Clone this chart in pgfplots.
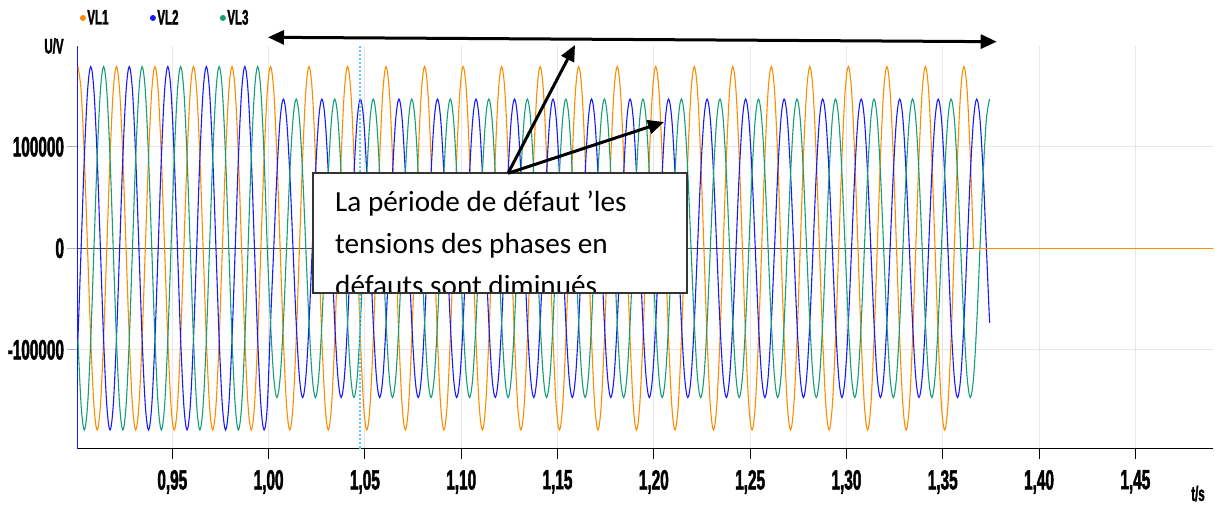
\documentclass[border=0pt]{standalone}
\usepackage{fontspec}
\setmainfont{Carlito}
\newfontfamily\cond{Liberation Sans}[FakeStretch=0.55, FakeBold=1.6]
\usepackage{pgfplots}
\pgfplotsset{compat=1.18}
\usepackage{pgfplotstable}
\usetikzlibrary{arrows.meta}

\definecolor{vlone}{RGB}{255,140,0}
\definecolor{vltwo}{RGB}{25,25,255}
\definecolor{vlthree}{RGB}{20,158,120}
\definecolor{cursor}{RGB}{90,200,245}

\newcommand\tickfont{\fontsize{28}{30}\selectfont\cond\bfseries}
\newcommand\smallfont{\fontsize{21}{23}\selectfont\cond\bfseries}

% t [s], VL1, VL2, VL3 [V]; fault from t = 1.0 s (VL2, VL3 reduced)
\pgfplotstableread{
t a b c
0.901 179000 -89500 -89500
0.90267 155000 0 -155000
0.90433 89500 89500 -179000
0.906 0 155000 -155000
0.90767 -89500 179000 -89500
0.90933 -155000 155000 0
0.911 -179000 89500 89500
0.91267 -155000 0 155000
0.91433 -89500 -89500 179000
0.916 0 -155000 155000
0.91767 89500 -179000 89500
0.91933 155000 -155000 0
0.921 179000 -89500 -89500
0.92267 155000 0 -155000
0.92433 89500 89500 -179000
0.926 0 155000 -155000
0.92767 -89500 179000 -89500
0.92933 -155000 155000 0
0.931 -179000 89500 89500
0.93267 -155000 0 155000
0.93433 -89500 -89500 179000
0.936 0 -155000 155000
0.93767 89500 -179000 89500
0.93933 155000 -155000 0
0.941 179000 -89500 -89500
0.94267 155000 0 -155000
0.94433 89500 89500 -179000
0.946 0 155000 -155000
0.94767 -89500 179000 -89500
0.94933 -155000 155000 0
0.951 -179000 89500 89500
0.95267 -155000 0 155000
0.95433 -89500 -89500 179000
0.956 0 -155000 155000
0.95767 89500 -179000 89500
0.95933 155000 -155000 0
0.961 179000 -89500 -89500
0.96267 155000 0 -155000
0.96433 89500 89500 -179000
0.966 0 155000 -155000
0.96767 -89500 179000 -89500
0.96933 -155000 155000 0
0.971 -179000 89500 89500
0.97267 -155000 0 155000
0.97433 -89500 -89500 179000
0.976 0 -155000 155000
0.97767 89500 -179000 89500
0.97933 155000 -155000 0
0.981 179000 -89500 -89500
0.98267 155000 0 -155000
0.98433 89500 89500 -179000
0.986 0 155000 -155000
0.98767 -89500 179000 -89500
0.98933 -155000 155000 0
0.991 -179000 89500 89500
0.99267 -155000 0 155000
0.99433 -89500 -89500 179000
0.996 0 -155000 155000
0.99767 89500 -179000 89500
0.99933 155000 -155000 0
1.001 179000 -73500 -73500
1.00267 155000 0 -127300
1.00433 89500 73500 -147000
1.006 0 127300 -127300
1.00767 -89500 147000 -73500
1.00933 -155000 127300 0
1.011 -179000 73500 73500
1.01267 -155000 0 127300
1.01433 -89500 -73500 147000
1.016 0 -127300 127300
1.01767 89500 -147000 73500
1.01933 155000 -127300 0
1.021 179000 -73500 -73500
1.02267 155000 0 -127300
1.02433 89500 73500 -147000
1.026 0 127300 -127300
1.02767 -89500 147000 -73500
1.02933 -155000 127300 0
1.031 -179000 73500 73500
1.03267 -155000 0 127300
1.03433 -89500 -73500 147000
1.036 0 -127300 127300
1.03767 89500 -147000 73500
1.03933 155000 -127300 0
1.041 179000 -73500 -73500
1.04267 155000 0 -127300
1.04433 89500 73500 -147000
1.046 0 127300 -127300
1.04767 -89500 147000 -73500
1.04933 -155000 127300 0
1.051 -179000 73500 73500
1.05267 -155000 0 127300
1.05433 -89500 -73500 147000
1.056 0 -127300 127300
1.05767 89500 -147000 73500
1.05933 155000 -127300 0
1.061 179000 -73500 -73500
1.06267 155000 0 -127300
1.06433 89500 73500 -147000
1.066 0 127300 -127300
1.06767 -89500 147000 -73500
1.06933 -155000 127300 0
1.071 -179000 73500 73500
1.07267 -155000 0 127300
1.07433 -89500 -73500 147000
1.076 0 -127300 127300
1.07767 89500 -147000 73500
1.07933 155000 -127300 0
1.081 179000 -73500 -73500
1.08267 155000 0 -127300
1.08433 89500 73500 -147000
1.086 0 127300 -127300
1.08767 -89500 147000 -73500
1.08933 -155000 127300 0
1.091 -179000 73500 73500
1.09267 -155000 0 127300
1.09433 -89500 -73500 147000
1.096 0 -127300 127300
1.09767 89500 -147000 73500
1.09933 155000 -127300 0
1.101 179000 -73500 -73500
1.10267 155000 0 -127300
1.10433 89500 73500 -147000
1.106 0 127300 -127300
1.10767 -89500 147000 -73500
1.10933 -155000 127300 0
1.111 -179000 73500 73500
1.11267 -155000 0 127300
1.11433 -89500 -73500 147000
1.116 0 -127300 127300
1.11767 89500 -147000 73500
1.11933 155000 -127300 0
1.121 179000 -73500 -73500
1.12267 155000 0 -127300
1.12433 89500 73500 -147000
1.126 0 127300 -127300
1.12767 -89500 147000 -73500
1.12933 -155000 127300 0
1.131 -179000 73500 73500
1.13267 -155000 0 127300
1.13433 -89500 -73500 147000
1.136 0 -127300 127300
1.13767 89500 -147000 73500
1.13933 155000 -127300 0
1.141 179000 -73500 -73500
1.14267 155000 0 -127300
1.14433 89500 73500 -147000
1.146 0 127300 -127300
1.14767 -89500 147000 -73500
1.14933 -155000 127300 0
1.151 -179000 73500 73500
1.15267 -155000 0 127300
1.15433 -89500 -73500 147000
1.156 0 -127300 127300
1.15767 89500 -147000 73500
1.15933 155000 -127300 0
1.161 179000 -73500 -73500
1.16267 155000 0 -127300
1.16433 89500 73500 -147000
1.166 0 127300 -127300
1.16767 -89500 147000 -73500
1.16933 -155000 127300 0
1.171 -179000 73500 73500
1.17267 -155000 0 127300
1.17433 -89500 -73500 147000
1.176 0 -127300 127300
1.17767 89500 -147000 73500
1.17933 155000 -127300 0
1.181 179000 -73500 -73500
1.18267 155000 0 -127300
1.18433 89500 73500 -147000
1.186 0 127300 -127300
1.18767 -89500 147000 -73500
1.18933 -155000 127300 0
1.191 -179000 73500 73500
1.19267 -155000 0 127300
1.19433 -89500 -73500 147000
1.196 0 -127300 127300
1.19767 89500 -147000 73500
1.19933 155000 -127300 0
1.201 179000 -73500 -73500
1.20267 155000 0 -127300
1.20433 89500 73500 -147000
1.206 0 127300 -127300
1.20767 -89500 147000 -73500
1.20933 -155000 127300 0
1.211 -179000 73500 73500
1.21267 -155000 0 127300
1.21433 -89500 -73500 147000
1.216 0 -127300 127300
1.21767 89500 -147000 73500
1.21933 155000 -127300 0
1.221 179000 -73500 -73500
1.22267 155000 0 -127300
1.22433 89500 73500 -147000
1.226 0 127300 -127300
1.22767 -89500 147000 -73500
1.22933 -155000 127300 0
1.231 -179000 73500 73500
1.23267 -155000 0 127300
1.23433 -89500 -73500 147000
1.236 0 -127300 127300
1.23767 89500 -147000 73500
1.23933 155000 -127300 0
1.241 179000 -73500 -73500
1.24267 155000 0 -127300
1.24433 89500 73500 -147000
1.246 0 127300 -127300
1.24767 -89500 147000 -73500
1.24933 -155000 127300 0
1.251 -179000 73500 73500
1.25267 -155000 0 127300
1.25433 -89500 -73500 147000
1.256 0 -127300 127300
1.25767 89500 -147000 73500
1.25933 155000 -127300 0
1.261 179000 -73500 -73500
1.26267 155000 0 -127300
1.26433 89500 73500 -147000
1.266 0 127300 -127300
1.26767 -89500 147000 -73500
1.26933 -155000 127300 0
1.271 -179000 73500 73500
1.27267 -155000 0 127300
1.27433 -89500 -73500 147000
1.276 0 -127300 127300
1.27767 89500 -147000 73500
1.27933 155000 -127300 0
1.281 179000 -73500 -73500
1.28267 155000 0 -127300
1.28433 89500 73500 -147000
1.286 0 127300 -127300
1.28767 -89500 147000 -73500
1.28933 -155000 127300 0
1.291 -179000 73500 73500
1.29267 -155000 0 127300
1.29433 -89500 -73500 147000
1.296 0 -127300 127300
1.29767 89500 -147000 73500
1.29933 155000 -127300 0
1.301 179000 -73500 -73500
1.30267 155000 0 -127300
1.30433 89500 73500 -147000
1.306 0 127300 -127300
1.30767 -89500 147000 -73500
1.30933 -155000 127300 0
1.311 -179000 73500 73500
1.31267 -155000 0 127300
1.31433 -89500 -73500 147000
1.316 0 -127300 127300
1.31767 89500 -147000 73500
1.31933 155000 -127300 0
1.321 179000 -73500 -73500
1.32267 155000 0 -127300
1.32433 89500 73500 -147000
1.326 0 127300 -127300
1.32767 -89500 147000 -73500
1.32933 -155000 127300 0
1.331 -179000 73500 73500
1.33267 -155000 0 127300
1.33433 -89500 -73500 147000
1.336 0 -127300 127300
1.33767 89500 -147000 73500
1.33933 155000 -127300 0
1.341 179000 -73500 -73500
1.34267 155000 0 -127300
1.34433 89500 73500 -147000
1.346 0 127300 -127300
1.34767 -89500 147000 -73500
1.34933 -155000 127300 0
1.351 -179000 73500 73500
1.35267 -155000 0 127300
1.35433 -89500 -73500 147000
1.356 0 -127300 127300
1.35767 89500 -147000 73500
1.35933 155000 -127300 0
1.361 179000 -73500 -73500
1.36267 155000 0 -127300
1.36433 89500 73500 -147000
1.366 0 127300 -127300
1.36767 0 147000 -73500
1.36933 0 127300 0
1.371 0 73500 73500
1.37267 0 0 127300
1.37433 0 -73500 147000
1.49034 0 nan nan
}\volt

\begin{document}
\begin{tikzpicture}
\useasboundingbox (0,0) rectangle (1215bp,506bp);
\begin{axis}[
    at={(77.5bp,57.5bp)}, anchor=south west,
    scale only axis, width=1135.5bp, height=402.5bp,
    xmin=0.90078, xmax=1.49034,
    ymin=-197250, ymax=199300,
    axis x line*=bottom, axis y line*=left,
    x axis line style={black, line width=1.3bp},
    y axis line style={vltwo, line width=1.5bp},
    xtick={0.95,1.0,1.05,1.1,1.15,1.2,1.25,1.3,1.35,1.4,1.45},
    xticklabels={{0,95},{1,00},{1,05},{1,10},{1,15},{1,20},{1,25},{1,30},{1,35},{1,40},{1,45}},
    ytick={-100000,0,100000},
    yticklabels={-100000,0,100000},
    tick align=outside,
    major tick length=10bp,
    x tick style={black, line width=1bp},
    y tick style={gray!60, line width=1bp},
    ticklabel style={font=\tickfont},
    xticklabel style={yshift=-8bp},
    grid=major,
    major grid style={gray!18, line width=1bp},
    scaled y ticks=false,
    legend columns=3,
    legend style={at={(0.002,1.0696)}, anchor=west, draw=none, fill=none,
        inner sep=0pt, font=\smallfont, nodes={inner sep=1.5bp},
        /tikz/every even column/.append style={column sep=40bp}},
    legend image code/.code={\fill (0bp,0bp) circle (2.4bp);},
]
\draw[gray!60!black, line width=1.2bp] (axis cs:0.90078,0) -- (axis cs:1.49034,0);
\addplot[color=vlone, line width=1.1bp, smooth, tension=0.55,
    restrict x to domain=0.9:1.3661] table[x=t, y=a] {\volt};
\addlegendentry{VL1}
\addplot[color=vltwo, line width=1.1bp, smooth, tension=0.55] table[x=t, y=b] {\volt};
\addlegendentry{VL2}
\addplot[color=vlthree, line width=1.1bp, smooth, tension=0.55] table[x=t, y=c] {\volt};
\addlegendentry{VL3}
\addplot[color=vlone, line width=1.1bp, forget plot,
    restrict x to domain=1.3659:1.5] table[x=t, y=a] {\volt};
\draw[cursor, line width=1.5bp, dash pattern=on 2bp off 2bp]
    (axis cs:1.0475,-197250) -- (axis cs:1.0475,199300);
\end{axis}

\node[font=\smallfont] at (54bp,460bp) {U/V};
\node[font=\smallfont] at (1198bp,12.5bp) {t/s};

% annotation box
\draw[line width=1.5bp, draw=black!80, fill=white] (313bp,213bp) rectangle (687bp,333bp);
\begin{scope}
\clip (313bp,213bp) rectangle (687bp,333bp);
\node[anchor=base west, inner sep=0pt, font=\fontsize{29.3}{34}\selectfont] at (335bp,294bp) {La période de défaut ’les};
\node[anchor=base west, inner sep=0pt, font=\fontsize{29.3}{34}\selectfont] at (335bp,252.5bp) {tensions des phases en};
\node[anchor=base west, inner sep=0pt, font=\fontsize{29.3}{34}\selectfont] at (335bp,210bp) {défauts sont diminués};
\end{scope}
\draw[line width=1.5bp, draw=black!80] (313bp,213bp) rectangle (687bp,333bp);

% arrows
\draw[line width=3bp, {Triangle[length=16bp,width=14bp]}-{Triangle[length=16bp,width=14bp]}]
    (268bp,468.7bp) -- (996.7bp,464.3bp);
\draw[line width=3bp, -{Triangle[length=16bp,width=14bp]}] (508bp,332.7bp) -- (575bp,461bp);
\draw[line width=3bp, -{Triangle[length=16bp,width=14bp]}] (508bp,332.7bp) -- (664bp,384bp);
\end{tikzpicture}
\end{document}
